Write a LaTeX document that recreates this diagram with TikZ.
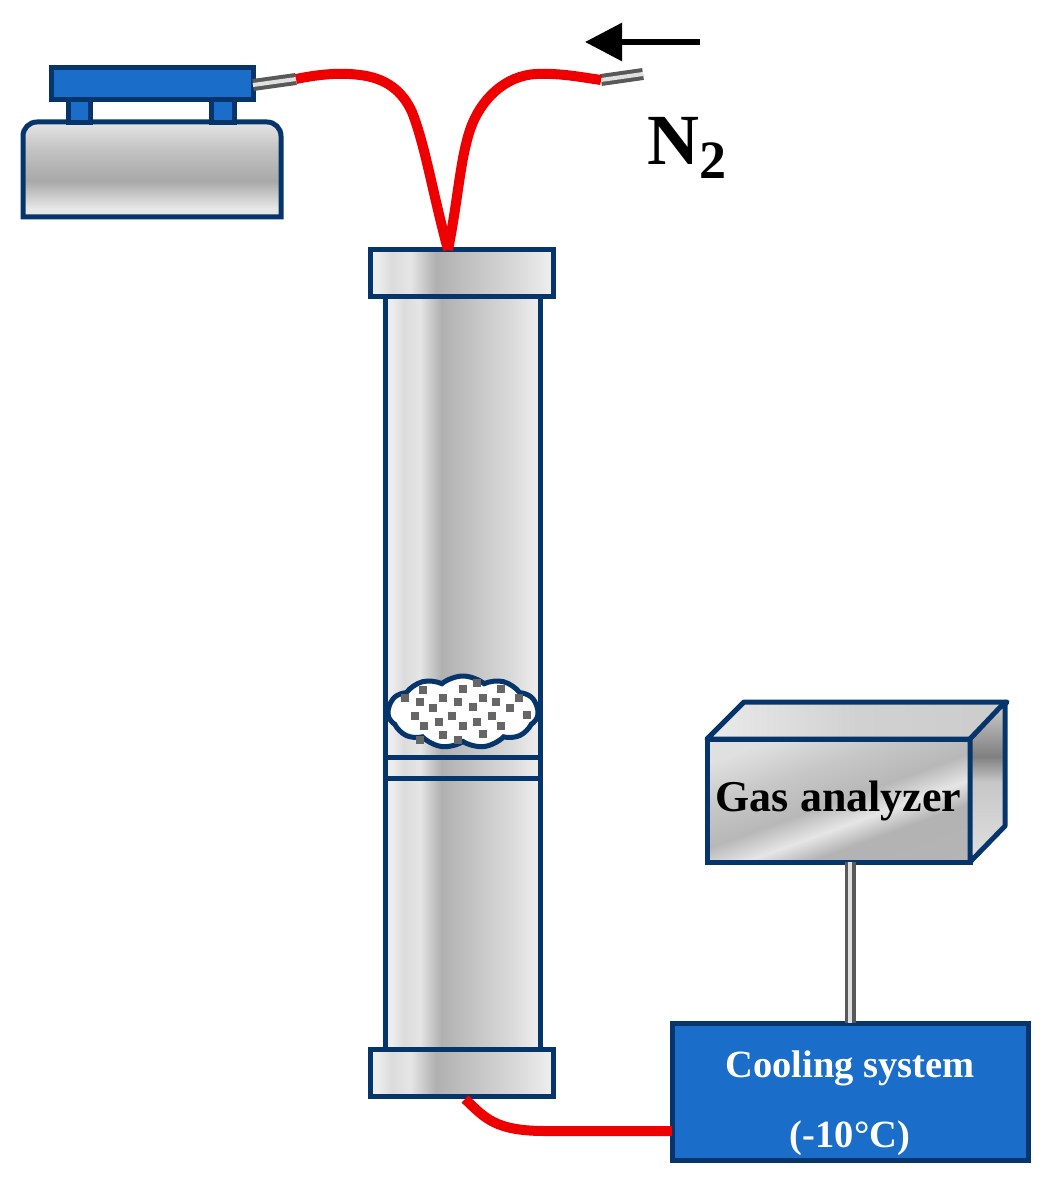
\documentclass[tikz,border=0pt]{standalone}
\usepackage{fontspec}
\setmainfont{Liberation Serif}
\usetikzlibrary{positioning,shapes.symbols,arrows.meta}

\definecolor{framenavy}{HTML}{06356B}
\definecolor{boxblue}{HTML}{1A6DC9}
\definecolor{hoseRed}{HTML}{EE0000}

% metal looks
\pgfdeclarehorizontalshading{tubeshade}{100bp}{
  color(0bp)=(black!7); color(27bp)=(black!7); color(31bp)=(black!14); color(36bp)=(black!10);
  color(43bp)=(black!31); color(55bp)=(black!22); color(65bp)=(black!15); color(74bp)=(black!7); color(100bp)=(black!7)}
\pgfdeclarehorizontalshading{lidshade}{100bp}{
  color(0bp)=(black!8); color(25bp)=(black!8); color(50bp)=(black!18); color(75bp)=(black!20); color(100bp)=(black!20)}
\pgfdeclareverticalshading{baseshade}{100bp}{
  color(0bp)=(black!8); color(30bp)=(black!10); color(44bp)=(black!34); color(60bp)=(black!24);
  color(75bp)=(black!10); color(100bp)=(black!10)}
\pgfdeclareverticalshading{frontshade}{100bp}{
  color(0bp)=(black!28); color(35bp)=(black!30); color(42bp)=(black!10); color(50bp)=(black!28);
  color(62bp)=(black!22); color(75bp)=(black!12); color(100bp)=(black!12)}
\pgfdeclareverticalshading{sideshade}{100bp}{
  color(0bp)=(black!12); color(25bp)=(black!12); color(50bp)=(black!22); color(58bp)=(black!50);
  color(75bp)=(black!18); color(100bp)=(black!18)}

\tikzset{
  metal/.style={draw=framenavy, line width=5pt, inner sep=0pt, outer sep=0pt},
  flange/.style={metal, shading=tubeshade, minimum width=183pt, minimum height=47pt},
  tube/.style={metal, shading=tubeshade, minimum width=155pt},
  bluebox/.style={draw=framenavy, line width=5pt, fill=boxblue, inner sep=0pt, outer sep=0pt},
  hose/.style={draw=hoseRed, line width=10pt},
  pipe/.style={draw=black!65, line width=4pt, double=black!12, double distance=4pt},
  grain/.style={fill=black!60, minimum size=8pt, inner sep=0pt},
  boldlabel/.style={font=\bfseries\fontsize{44}{50}\selectfont}
}

\begin{document}
\begin{tikzpicture}[x=1pt, y=-1pt]
  \useasboundingbox (0,0) rectangle (1051,1190);

  % syringe pump
  \draw[metal, shading=baseshade] (23,217) [rounded corners=14pt] -- (23,122) -- (281,122) [sharp corners] -- (281,217) -- cycle;
  \node[bluebox, minimum width=22pt, minimum height=24pt] (legleft) at (79,111) {};
  \node[bluebox, minimum width=23pt, minimum height=24pt] (legright) at (222.5,111) {};
  \node[bluebox, minimum width=202pt, minimum height=32pt] (plate) at (152,84) {};

  % column
  \node[flange] (topflange) at (461.5,272.5) {};
  \node[tube, minimum height=461pt, below=0pt of topflange, xshift=1.5pt] (uppertube) {};
  \node[tube, minimum height=21pt, below=0pt of uppertube] (spacer) {};
  \node[tube, minimum height=271pt, below=0pt of spacer] (lowertube) {};
  \node[flange, below=0pt of lowertube, xshift=-1.5pt] (bottomflange) {};

  % catalyst bed
  \node[cloud, cloud puffs=11, cloud puff arc=80, aspect=2.2, draw=framenavy, line width=5pt, fill=white,
        inner sep=0pt, minimum width=150pt, minimum height=72pt] (bed) at (463,712) {};
  \foreach \px/\py in {150/125, 190/143, 218/113, 263/125, 310/140, 338/113, 378/125, 420/143, 447/115,
                       393/87, 280/88, 320/70, 160/90, 135/168, 163/197, 208/187, 245/168, 280/197,
                       320/187, 365/168, 393/197, 470/165, 218/225, 265/240, 338/222, 105/115, 150/240}
    \node[grain] (grain\px) at ({370+\px/3},{660+\py/3}) {};

  % cooler and analyzer
  \node[bluebox, minimum width=356pt, minimum height=137pt] (cooling) at (850,1091.5) {};
  \node[below=24pt of cooling.north, align=center, text=white, font=\bfseries\fontsize{38.5}{70}\selectfont] (coolinglabel) {Cooling system\\(-10°C)};
  \node[metal, shading=frontshade, shading angle=20, minimum width=263pt, minimum height=123pt,
        above=161pt of cooling, xshift=-11.5pt, boldlabel] (gasfront) {Gas analyzer};
  \draw[metal, shading=lidshade, line join=round] (gasfront.north west) -- ++(37,-37) -- ++(263,0) -- (gasfront.north east) -- cycle;
  \draw[metal, shading=sideshade, line join=round] (gasfront.north east) -- ++(35,-37) -- ++(0,124) -- (gasfront.south east) -- cycle;
  \draw[pipe, line width=3.5pt] (gasfront.south -| cooling.north) -- (cooling.north);

  % hoses
  \coordinate (inlet) at (448,250);
  \coordinate (pumpfit) at (296,79);
  \coordinate (gasfit) at (601,80);
  \coordinate (gasend) at (643,74);
  \coordinate (outlet) at (465,1099);
  \draw[pipe] (plate.east |- 0,85) -- (pumpfit);
  \draw[pipe] (gasfit) -- (gasend);
  \draw[hose] (pumpfit) .. controls (325,73) and (345,73) .. (360,75) .. controls (385,78) and (402,90) .. (412,112)
    .. controls (425,145) and (432,190) .. (inlet);
  \draw[hose] (inlet) .. controls (458,200) and (460,160) .. (470,130) .. controls (480,100) and (505,75) .. (537,74)
    .. controls (560,73) and (580,77) .. (gasfit);
  \draw[hose] (outlet) .. controls (485,1118) and (495,1131) .. (545,1131) -- (cooling.west |- 0,1131);

  % gas direction
  \coordinate (flowstart) at (700,42);
  \coordinate (flowend) at (585,42);
  \draw[-{Triangle[length=37pt,width=37pt]}, line width=6pt] (flowstart) -- (flowend);
  \node[font=\bfseries\fontsize{72}{72}\selectfont] (nitrogen) at (687,148) {N\raisebox{-0.2em}{\fontsize{54}{54}\selectfont 2}};
\end{tikzpicture}
\end{document}
